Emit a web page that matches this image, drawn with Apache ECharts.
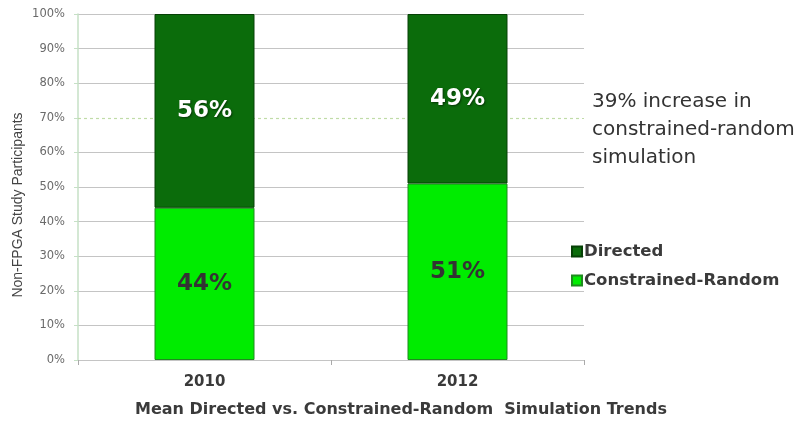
<!DOCTYPE html>
<html>
<head>
<meta charset="utf-8">
<script src="https://cdn.jsdelivr.net/npm/echarts@6/dist/echarts.min.js"></script>
<style>
  html, body { margin: 0; padding: 0; background: #ffffff; }
  #chart { width: 799px; height: 425px; }
</style>
</head>
<body>
<div id="chart"></div>
<script>
// Survey years on the category axis
const years = ['2010', '2012'];
// Share of participants (percent) by simulation style
const constrainedRandom = [44, 51];
const directed = [56, 49];
// Value axis ticks
const yTicks = [0, 10, 20, 30, 40, 50, 60, 70, 80, 90, 100];

const FONT = '"DejaVu Sans", Verdana, sans-serif';
const GRID_GRAY = '#c4c4c4';
// 70% line gets its own dashed green rule instead of the plain grey one
const splitColors = yTicks.map(v => (v === 70 ? 'rgba(0,0,0,0)' : GRID_GRAY));

const chart = echarts.init(document.getElementById('chart'), null, { renderer: 'canvas' });

chart.setOption({
  backgroundColor: '#ffffff',
  animation: false,
  textStyle: { fontFamily: FONT },
  grid: { left: 78, right: 215, top: 14, bottom: 65, containLabel: false },
  legend: {
    orient: 'vertical',
    left: 566,
    top: 238,
    itemWidth: 10,
    itemHeight: 10,
    itemGap: 12,
    icon: 'rect',
    data: ['Directed', 'Constrained-Random'],
    textStyle: {
      fontFamily: FONT, fontSize: 16.5, fontWeight: 'bold', color: '#3a3a3a',
      padding: [0, 0, 0, -3]
    }
  },
  xAxis: {
    type: 'category',
    data: years,
    axisLine: { show: true, lineStyle: { color: GRID_GRAY, width: 1 } },
    axisTick: { show: true, alignWithLabel: false, length: 5, lineStyle: { color: '#aaaaaa' } },
    axisLabel: { margin: 15, fontFamily: FONT, fontSize: 15, fontWeight: 'bold', color: '#3a3a3a' },
    splitLine: { show: false }
  },
  yAxis: {
    type: 'value',
    min: 0,
    max: 100,
    interval: 10,
    axisLine: { show: true, lineStyle: { color: '#c6e0c6', width: 1.5 } },
    axisTick: { show: true, inside: false, length: 4, lineStyle: { color: '#c6e0c6' } },
    axisLabel: { margin: 13, fontFamily: FONT, fontSize: 11.5, color: '#6a6a6a', formatter: '{value}%' },
    splitLine: { show: true, lineStyle: { color: splitColors, width: 1.2 } }
  },
  series: [
    {
      name: 'Constrained-Random',
      type: 'bar',
      stack: 'share',
      barWidth: 100,
      data: constrainedRandom,
      itemStyle: { color: '#00ec00', borderColor: '#1f8a1f', borderWidth: 1 },
      label: {
        show: true, position: 'inside', formatter: '{c}%',
        fontFamily: FONT, fontSize: 23, fontWeight: 'bold', color: '#333333'
      },
      markLine: {
        silent: true,
        symbol: 'none',
        label: { show: false },
        lineStyle: { color: '#c0dca8', type: [3, 3], width: 1.2 },
        data: [{ yAxis: 70 }],
        z: 1
      },
      z: 3
    },
    {
      name: 'Directed',
      type: 'bar',
      stack: 'share',
      barWidth: 100,
      data: directed,
      itemStyle: { color: '#0b6c0b', borderColor: '#064006', borderWidth: 1 },
      label: {
        show: true, position: 'inside', formatter: '{c}%',
        fontFamily: FONT, fontSize: 23, fontWeight: 'bold', color: '#ffffff',
        textShadowColor: 'rgba(0,0,0,0.5)', textShadowBlur: 2, textShadowOffsetX: 1, textShadowOffsetY: 1
      },
      z: 3
    }
  ],
  graphic: [
    {
      type: 'text',
      x: 18, y: 205,
      rotation: Math.PI / 2,
      style: {
        text: 'Non-FPGA Study Participants',
        fontFamily: '"Liberation Sans", Arial, sans-serif', fontSize: 14, fill: '#444444',
        align: 'center', verticalAlign: 'middle'
      }
    },
    {
      type: 'text',
      x: 401, y: 410,
      style: {
        text: 'Mean Directed vs. Constrained-Random  Simulation Trends',
        fontFamily: FONT, fontSize: 16, fontWeight: 'bold', fill: '#3a3a3a',
        align: 'center', verticalAlign: 'middle'
      }
    },
    {
      type: 'text',
      x: 592, y: 88,
      style: {
        text: '39% increase in\nconstrained-random\nsimulation',
        fontFamily: FONT, fontSize: 20, fill: '#333333',
        lineHeight: 28, align: 'left', verticalAlign: 'top'
      }
    }
  ]
});
</script>
</body>
</html>
